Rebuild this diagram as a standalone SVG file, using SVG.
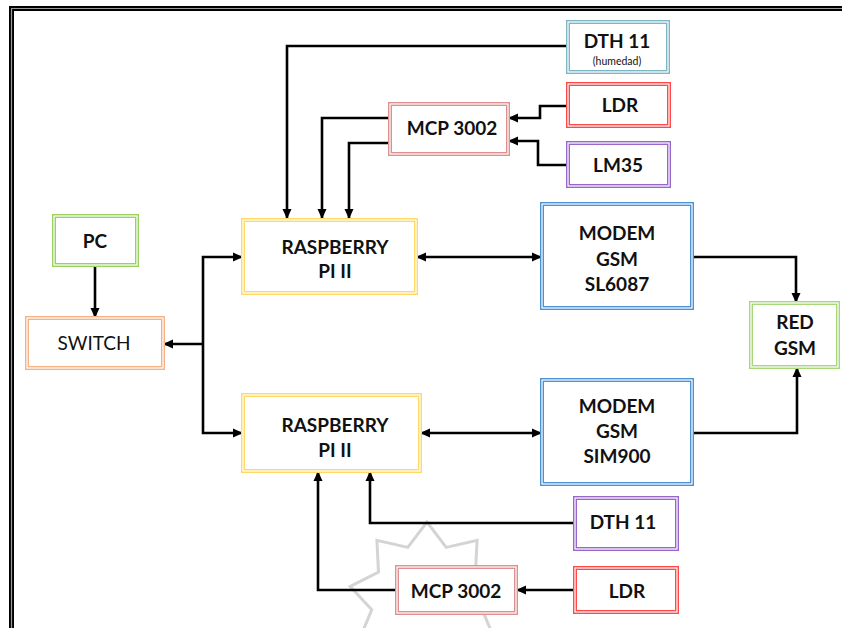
<svg xmlns="http://www.w3.org/2000/svg" width="842" height="628" viewBox="0 0 842 628">
<defs>
<style>
.box{fill:#ffffff;stroke-width:4}
.inner{fill:none;stroke:#ffffff;stroke-width:1.2}
.t{font-family:Lato,"Liberation Sans",sans-serif;font-weight:bold;font-size:19px;fill:#111111;text-anchor:middle}
.tr{font-family:Lato,"Liberation Sans",sans-serif;font-size:19px;fill:#111111;text-anchor:middle}
.ts{font-family:Lato,"Liberation Sans",sans-serif;font-size:10.5px;fill:#111111;text-anchor:middle}
.c{fill:none;stroke:#000000;stroke-width:2.6}
</style>
<marker id="ah" markerUnits="userSpaceOnUse" markerWidth="10" markerHeight="10" refX="10" refY="5" orient="auto">
<path d="M0,0.5 L10,5 L0,9.5 z" fill="#000000"/>
</marker>
<marker id="as" markerUnits="userSpaceOnUse" markerWidth="10" markerHeight="10" refX="0" refY="5" orient="auto">
<path d="M10,0.5 L0,5 L10,9.5 z" fill="#000000"/>
</marker>
</defs>
<rect x="0" y="0" width="842" height="628" fill="#ffffff"/>
<g id="frame">
<path d="M842,8.5 H11.5 V628" fill="none" stroke="#000000" stroke-width="5"/>
<path d="M842,8.5 H11.5 V628" fill="none" stroke="#9a9a9a" stroke-width="1.2"/>
</g>
<g id="watermark">
<polygon points="427,522 446.2,547.4 477.1,540.3 475.5,572 503.8,586.5 482.2,609.7 494.5,639 463,642.9 453.7,673.3 427,656 400.3,673.3 391,642.9 359.5,639 371.8,609.7 350.2,586.5 378.5,572 376.9,540.3 407.8,547.4" fill="none" stroke="#d4d4d4" stroke-width="3"/>
</g>
<g id="connectors">
<path class="c" d="M568,46 H287 V219" marker-end="url(#ah)"/>
<path class="c" d="M390,118 H322 V219" marker-end="url(#ah)"/>
<path class="c" d="M390,143 H349 V219" marker-end="url(#ah)"/>
<path class="c" d="M568,106 H540 V118 H508" marker-end="url(#ah)"/>
<path class="c" d="M568,165 H538 V141 H508" marker-end="url(#ah)"/>
<path class="c" d="M95,265 V318" marker-end="url(#ah)"/>
<path class="c" d="M203,344 H163" marker-end="url(#ah)"/>
<path class="c" d="M203,344 V257 H243" marker-end="url(#ah)"/>
<path class="c" d="M203,344 V433 H243" marker-end="url(#ah)"/>
<path class="c" d="M416,257 H542" marker-start="url(#as)" marker-end="url(#ah)"/>
<path class="c" d="M420,433 H542" marker-start="url(#as)" marker-end="url(#ah)"/>
<path class="c" d="M692,257 H796 V303" marker-end="url(#ah)"/>
<path class="c" d="M692,433 H797 V367" marker-end="url(#ah)"/>
<path class="c" d="M575,523 H370 V471" marker-end="url(#ah)"/>
<path class="c" d="M397,590 H318 V471" marker-end="url(#ah)"/>
<path class="c" d="M575,590 H516" marker-end="url(#ah)"/>
</g>
<g id="dth11-top">
<rect class="box" x="568" y="22" width="100" height="50" stroke="#7fb6c6"/>
<rect class="inner" x="568" y="22" width="100" height="50"/>
<text class="t" x="617" y="48">DTH 11</text>
<text class="ts" x="617" y="65">(humedad)</text>
</g>
<g id="mcp-top">
<rect class="box" x="390" y="104" width="118" height="50" stroke="#dc9090"/>
<rect class="inner" x="390" y="104" width="118" height="50"/>
<text class="t" x="452" y="135">MCP 3002</text>
</g>
<g id="ldr-top">
<rect class="box" x="568" y="84" width="101" height="42" stroke="#ff4a4a"/>
<rect class="inner" x="568" y="84" width="101" height="42"/>
<text class="t" x="620" y="112">LDR</text>
</g>
<g id="lm35">
<rect class="box" x="568" y="143" width="101" height="43" stroke="#9966cc"/>
<rect class="inner" x="568" y="143" width="101" height="43"/>
<text class="t" x="618" y="172">LM35</text>
</g>
<g id="pc">
<rect class="box" x="54" y="216" width="83" height="49" stroke="#99d262"/>
<rect class="inner" x="54" y="216" width="83" height="49"/>
<text class="t" x="95" y="248">PC</text>
</g>
<g id="switch">
<rect class="box" x="27" y="318" width="136" height="50" stroke="#f5b286"/>
<rect class="inner" x="27" y="318" width="136" height="50"/>
<text class="tr" x="94" y="350">SWITCH</text>
</g>
<g id="raspberry-1">
<rect class="box" x="243" y="220" width="173" height="73" stroke="#ffd966"/>
<rect class="inner" x="243" y="220" width="173" height="73"/>
<text class="t" x="335" y="254">RASPBERRY</text>
<text class="t" x="335" y="278">PI II</text>
</g>
<g id="modem-sl6087">
<rect class="box" x="542" y="204" width="150" height="104" stroke="#4a94d6"/>
<rect class="inner" x="542" y="204" width="150" height="104"/>
<text class="t" x="617" y="240">MODEM</text>
<text class="t" x="617" y="266">GSM</text>
<text class="t" x="617" y="291">SL6087</text>
</g>
<g id="red-gsm">
<rect class="box" x="751" y="303" width="87" height="64" stroke="#a6d87a"/>
<rect class="inner" x="751" y="303" width="87" height="64"/>
<text class="t" x="795" y="329">RED</text>
<text class="t" x="795" y="355">GSM</text>
</g>
<g id="raspberry-2">
<rect class="box" x="243" y="395" width="177" height="76" stroke="#ffd966"/>
<rect class="inner" x="243" y="395" width="177" height="76"/>
<text class="t" x="335" y="432">RASPBERRY</text>
<text class="t" x="335" y="457">PI II</text>
</g>
<g id="modem-sim900">
<rect class="box" x="542" y="380" width="150" height="104" stroke="#4a94d6"/>
<rect class="inner" x="542" y="380" width="150" height="104"/>
<text class="t" x="617" y="413">MODEM</text>
<text class="t" x="617" y="438">GSM</text>
<text class="t" x="617" y="463">SIM900</text>
</g>
<g id="dth11-bottom">
<rect class="box" x="575" y="498" width="102" height="51" stroke="#9966cc"/>
<rect class="inner" x="575" y="498" width="102" height="51"/>
<text class="t" x="623" y="529">DTH 11</text>
</g>
<g id="mcp-bottom">
<rect class="box" x="397" y="567" width="119" height="46" stroke="#dc9090"/>
<rect class="inner" x="397" y="567" width="119" height="46"/>
<text class="t" x="456" y="598">MCP 3002</text>
</g>
<g id="ldr-bottom">
<rect class="box" x="575" y="568" width="102" height="44" stroke="#ff4a4a"/>
<rect class="inner" x="575" y="568" width="102" height="44"/>
<text class="t" x="627" y="598">LDR</text>
</g>
</svg>
